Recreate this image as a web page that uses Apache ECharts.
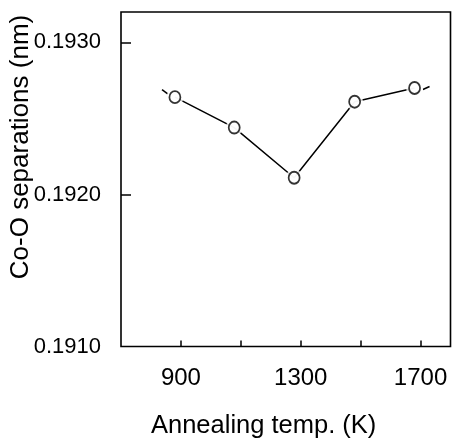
<!DOCTYPE html>
<html>
<head>
<meta charset="utf-8">
<script src="https://cdn.jsdelivr.net/npm/echarts@6/dist/echarts.min.js"></script>
<style>html,body{margin:0;padding:0;background:#fff}#c{width:452px;height:441px}</style>
</head>
<body>
<div id="c"></div>
<script>
// Data
var temps = [880, 1078, 1278, 1480, 1680];           // annealing temperature (K)
var separations = [0.19264, 0.19244, 0.19211, 0.19261, 0.19270]; // Co-O separation (nm)
var leftStubT = [837, 857];
var leftStubV = [0.19269, 0.19266];
var rightStubT = [1708, 1730];
var rightStubV = [0.19269, 0.19271];
var xTicks = [900, 1100, 1300, 1500, 1700];
var xLabels = [900, 1300, 1700];
var yTicks = [0.1920, 0.1930];
var yLabels = [0.1910, 0.1920, 0.1930];
var xTitle = 'Annealing temp. (K)';
var yTitle = 'Co-O separations (nm)';

function pairs(a, b) { return a.map(function (v, i) { return [v, b[i]]; }); }

var FONT = 'Liberation Sans';
var chart = echarts.init(document.getElementById('c'), null, { renderer: 'canvas' });
chart.setOption({
  animation: false,
  backgroundColor: '#fff',
  grid: { left: 121, right: 1.5, top: 12, bottom: 94.5, show: true, borderColor: '#000', borderWidth: 1.6, backgroundColor: 'transparent' },
  xAxis: {
    type: 'value', min: 700, max: 1800, interval: 100,
    axisLine: { show: false },
    splitLine: { show: false },
    axisTick: { show: true, inside: true, length: 6, customValues: xTicks, lineStyle: { color: '#000', width: 1.5 } },
    axisLabel: { customValues: xLabels, color: '#000', fontFamily: FONT, fontSize: 24, margin: 20,
      formatter: function (v) { return String(Math.round(v)); } }
  },
  yAxis: {
    type: 'value', min: 0.1910, max: 0.1932, interval: 0.0001,
    axisLine: { show: false },
    splitLine: { show: false },
    axisTick: { show: true, inside: true, length: 10, customValues: yTicks, lineStyle: { color: '#000', width: 1.5 } },
    axisLabel: { customValues: yLabels, color: '#000', fontFamily: FONT, fontSize: 22, margin: 20,
      formatter: function (v) { return v.toFixed(4); } }
  },
  graphic: [
    { type: 'text', left: 151, top: 413, style: { text: xTitle, fontFamily: FONT, fontSize: 25.5, fill: '#000' } },
    { type: 'text', x: 21, y: 147, rotation: Math.PI / 2,
      style: { text: yTitle, fontFamily: FONT, fontSize: 26, fill: '#000', align: 'center', verticalAlign: 'middle' } }
  ],
  series: [
    { type: 'line', data: pairs(temps, separations), showSymbol: false, lineStyle: { color: '#000', width: 1.5 }, z: 2 },
    { type: 'line', data: pairs(leftStubT, leftStubV), showSymbol: false, lineStyle: { color: '#000', width: 1.5 }, z: 2 },
    { type: 'line', data: pairs(rightStubT, rightStubV), showSymbol: false, lineStyle: { color: '#000', width: 1.5 }, z: 2 },
    { type: 'scatter', data: pairs(temps, separations), symbol: 'circle', symbolSize: 17, itemStyle: { color: '#fff' }, z: 3, silent: true },
    { type: 'scatter', data: pairs(temps, separations), symbol: 'circle', symbolSize: [11, 12], itemStyle: { color: '#fff', borderColor: '#000', borderWidth: 1.8 }, z: 4 }
  ]
});
</script>
</body>
</html>
